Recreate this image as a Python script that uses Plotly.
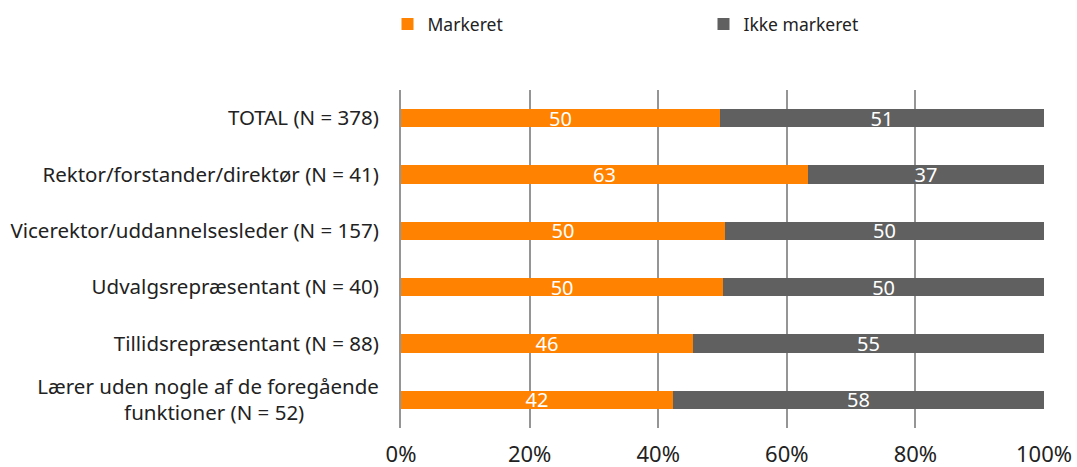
import plotly.graph_objects as go

categories = [
    "TOTAL (N = 378)",
    "Rektor/forstander/direktør (N = 41)",
    "Vicerektor/uddannelsesleder (N = 157)",
    "Udvalgsrepræsentant (N = 40)",
    "Tillidsrepræsentant (N = 88)",
    "Lærer uden nogle af de foregående<br>funktioner (N = 52)" + "\u00a0" * 14,
]
markeret = [49.6, 63.3, 50.4, 50.1, 45.4, 42.3]
ikke_markeret = [50.4, 36.7, 49.6, 49.9, 54.6, 57.7]
markeret_labels = ["50", "63", "50", "50", "46", "42"]
ikke_labels = ["51", "37", "50", "50", "55", "58"]
x_ticks = [0, 20, 40, 60, 80, 100]
x_tick_labels = ["0%", "20%", "40%", "60%", "80%", "100%"]

ORANGE = "#FF8200"
GRAY = "#606060"
FONT = "Noto Sans"

fig = go.Figure()
fig.add_trace(go.Bar(
    y=categories, x=markeret, name="Markeret", orientation="h",
    marker=dict(color=ORANGE, line=dict(width=0)),
    text=markeret_labels, textposition="inside", insidetextanchor="middle",
    constraintext="none",
    textfont=dict(color="white", size=20, family=FONT), textangle=0,
))
fig.add_trace(go.Bar(
    y=categories, x=ikke_markeret, name="Ikke markeret", orientation="h",
    marker=dict(color=GRAY, line=dict(width=0)),
    text=ikke_labels, textposition="inside", insidetextanchor="middle",
    constraintext="none",
    textfont=dict(color="white", size=20, family=FONT), textangle=0,
))

fig.update_layout(
    width=1077, height=467,
    barmode="stack", bargap=0.67,
    plot_bgcolor="white", paper_bgcolor="white",
    font=dict(family=FONT, color="#222222", size=20),
    margin=dict(l=401, r=33, t=90, b=39, autoexpand=False),
    legend=dict(
        orientation="h", x=-0.021, xanchor="left",
        y=1 + (90 - 6) / 338, yanchor="top", yref="paper",
        entrywidth=271, entrywidthmode="pixels",
        font=dict(size=17.5, family=FONT, color="#222222"),
        itemwidth=30, traceorder="normal", itemclick=False,
    ),
    showlegend=True,
)
fig.update_xaxes(
    range=[0, 100], tickvals=x_ticks, ticktext=x_tick_labels,
    showgrid=True, gridcolor="#959595", gridwidth=2,
    zeroline=False, showline=False, automargin=False,
    tickfont=dict(size=22, family=FONT, color="#222222"),
    ticklabelstandoff=11, fixedrange=True,
)
fig.update_yaxes(
    categoryorder="array", categoryarray=categories, autorange="reversed",
    showline=True, linecolor="#959595", linewidth=2, automargin=False,
    showgrid=False, ticks="", ticklabelstandoff=16,
    tickfont=dict(size=20.5, family=FONT, color="#222222"),
    fixedrange=True,
)

fig.write_html(
    "out.html",
    config={"displayModeBar": False},
    post_script="document.body.style.margin='0';",
)
